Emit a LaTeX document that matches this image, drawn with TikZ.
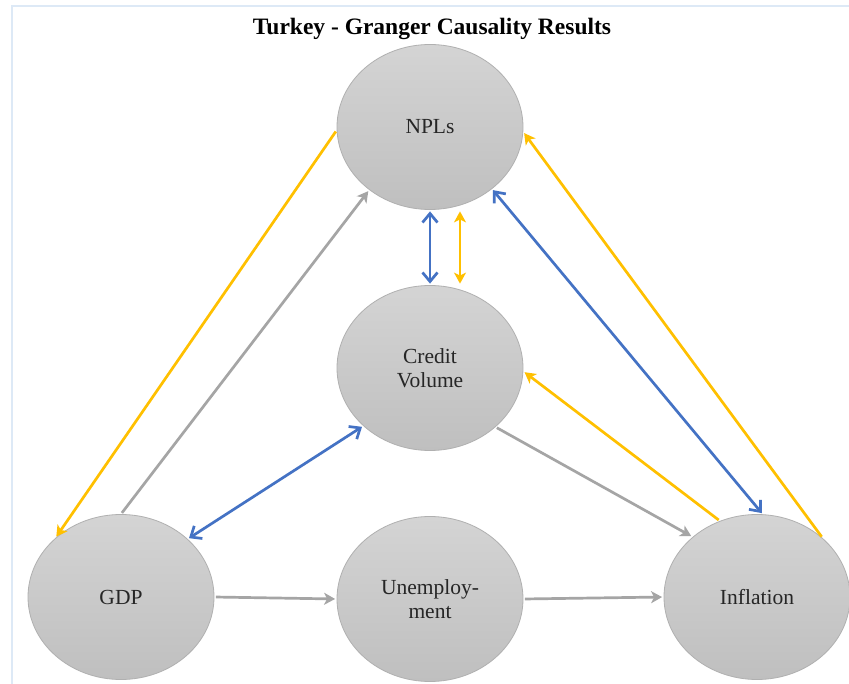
\documentclass[tikz,border=0pt]{standalone}
\usepackage{fontspec}
\setmainfont{Liberation Serif}
\usetikzlibrary{shapes.geometric,arrows.meta}

\definecolor{linkgold}{HTML}{FFC000}
\definecolor{linkblue}{HTML}{4472C4}
\definecolor{linkgray}{HTML}{A5A5A5}
\definecolor{framecol}{HTML}{DDE9F6}
\definecolor{balltop}{HTML}{D4D4D4}
\definecolor{ballbot}{HTML}{BFBFBF}
\definecolor{ballrim}{HTML}{B0B0B0}

\tikzset{
  ball/.style={ellipse, minimum width=186pt, minimum height=165pt, inner sep=0pt,
    top color=balltop, bottom color=ballbot, draw=ballrim, line width=0.8pt,
    align=center, font=\fontsize{21.5}{24.5}\selectfont, text=black!85},
  link/.style={line width=2.7pt, line join=round, shorten >=1.5pt, shorten <=1.5pt},
  goldlink/.style={link, draw=linkgold, -{Stealth[length=11pt,width=12pt,inset=3pt]}},
  goldtwo/.style={link, draw=linkgold, {Stealth[length=11pt,width=12pt,inset=3pt]}-{Stealth[length=11pt,width=12pt,inset=3pt]}},
  bluetwo/.style={link, draw=linkblue, {Straight Barb[length=9pt,width=15pt]}-{Straight Barb[length=9pt,width=15pt]}},
  graylink/.style={link, draw=linkgray, -{Stealth[length=11pt,width=12pt,inset=3pt]}}
}

\begin{document}
\begin{tikzpicture}[x=1pt,y=-1pt]
  % canvas and thin frame
  \useasboundingbox (0,0) rectangle (849,684);
  \fill[white] (0,0) rectangle (849,684);
  \draw[framecol, line width=2pt] (849,6) -- (12,6) -- (12,684);

  % title
  \node[font=\fontsize{23.5}{27}\selectfont\bfseries] (title) at (432,29) {Turkey - Granger Causality Results};

  % variables
  \node[ball] (npl)  at (430,127) {NPLs};
  \node[ball] (cred) at (430,368) {Credit\\Volume};
  \node[ball] (gdp)  at (121,597) {GDP};
  \node[ball] (unem) at (430,599) {Unemploy-\\ment};
  \node[ball] (infl) at (757,597) {Inflation};

  % causal links
  \draw[goldlink] (npl.182) -- (gdp.138);
  \draw[graylink] (gdp.north) -- (npl.226);
  \draw[bluetwo] (npl.south) -- (cred.north);
  \draw[goldtwo] ([xshift=30pt]npl.south) -- ([xshift=30pt]cred.north);
  \draw[bluetwo] (npl.315) -- (infl.86);
  \draw[goldlink] (infl.42) -- (npl.357);
  \draw[goldlink] (infl.116) -- (cred.358);
  \draw[graylink] (cred.318) -- (infl.137);
  \draw[bluetwo] (gdp.41) -- (cred.221);
  \draw[graylink] (gdp.east) -- (unem.west);
  \draw[graylink] (unem.east) -- (infl.west);
\end{tikzpicture}
\end{document}
